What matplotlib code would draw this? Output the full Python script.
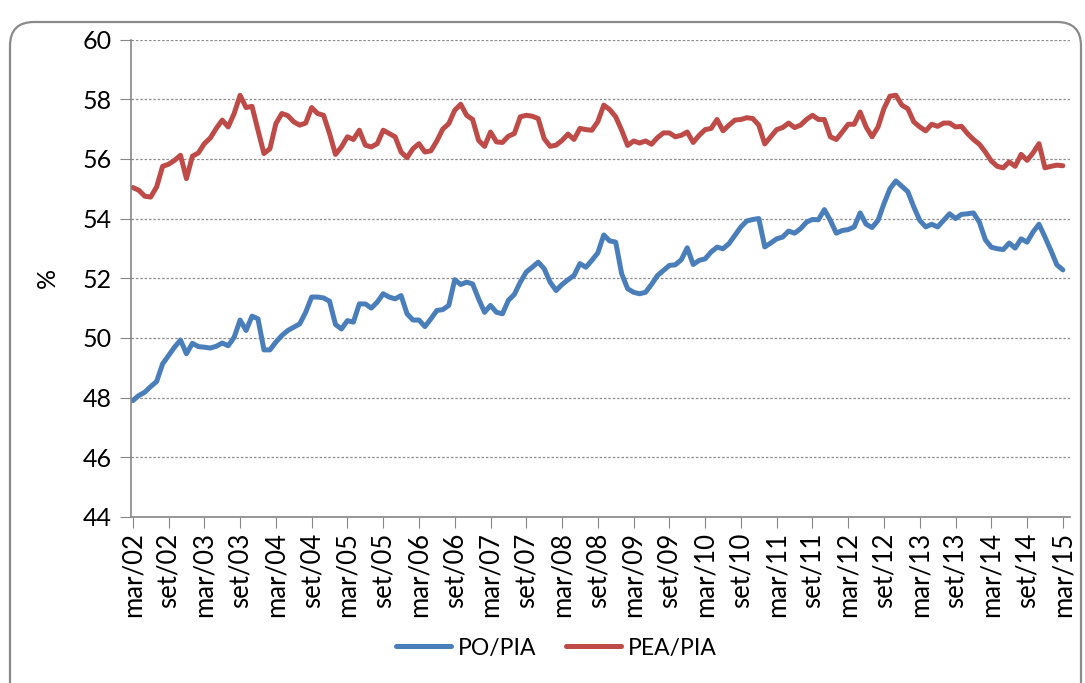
import numpy as np
import matplotlib
matplotlib.use("Agg")
import matplotlib.pyplot as plt
from matplotlib.patches import FancyBboxPatch
from matplotlib.transforms import IdentityTransform

plt.rcParams['font.family'] = ['Lato', 'DejaVu Sans']

# PO/PIA, mensal de mar/02 a mar/15
po_pia = [
    47.90, 48.07, 48.18, 48.37, 48.54, 49.13, 49.41, 49.69, 49.93, 49.47,
    49.82, 49.71, 49.69, 49.66, 49.72, 49.83, 49.74, 50.02, 50.60, 50.25,
    50.73, 50.64, 49.60, 49.60, 49.86, 50.08, 50.25, 50.36, 50.47, 50.86,
    51.37, 51.37, 51.34, 51.23, 50.45, 50.30, 50.58, 50.53, 51.14, 51.14,
    51.00, 51.20, 51.48, 51.37, 51.31, 51.42, 50.81, 50.60, 50.60, 50.38,
    50.64, 50.92, 50.95, 51.09, 51.95, 51.79, 51.87, 51.81, 51.31, 50.86,
    51.09, 50.86, 50.81, 51.26, 51.46, 51.87, 52.21, 52.37, 52.54, 52.32,
    51.87, 51.59, 51.79, 51.95, 52.09, 52.49, 52.37, 52.60, 52.85, 53.45,
    53.25, 53.21, 52.15, 51.65, 51.53, 51.48, 51.53, 51.79, 52.09, 52.26,
    52.43, 52.45, 52.62, 53.02, 52.46, 52.60, 52.65, 52.88, 53.04, 52.99,
    53.16, 53.44, 53.72, 53.92, 53.97, 54.00, 53.05, 53.18, 53.32, 53.38,
    53.58, 53.51, 53.66, 53.88, 53.97, 53.96, 54.30, 53.94, 53.51, 53.60,
    53.63, 53.72, 54.19, 53.81, 53.70, 53.94, 54.50, 55.00, 55.26, 55.08,
    54.90, 54.39, 53.94, 53.72, 53.81, 53.72, 53.94, 54.16, 54.00, 54.14,
    54.16, 54.19, 53.88, 53.29, 53.04, 52.99, 52.96, 53.18, 53.01, 53.32,
    53.21, 53.55, 53.81, 53.38, 52.93, 52.45, 52.28,
]

# PEA/PIA
pea_pia = [
    55.04, 54.95, 54.75, 54.72, 55.06, 55.75, 55.82, 55.95, 56.12, 55.34,
    56.09, 56.20, 56.51, 56.70, 57.02, 57.30, 57.07, 57.52, 58.13, 57.72,
    57.76, 56.96, 56.18, 56.34, 57.18, 57.52, 57.45, 57.24, 57.13, 57.20,
    57.72, 57.52, 57.46, 56.85, 56.15, 56.40, 56.74, 56.65, 56.96, 56.46,
    56.40, 56.51, 56.96, 56.85, 56.74, 56.23, 56.04, 56.34, 56.51, 56.23,
    56.27, 56.60, 57.00, 57.18, 57.63, 57.83, 57.46, 57.32, 56.62, 56.42,
    56.90, 56.57, 56.55, 56.76, 56.85, 57.41, 57.46, 57.43, 57.35, 56.68,
    56.42, 56.46, 56.62, 56.83, 56.65, 57.02, 56.98, 56.96, 57.25, 57.80,
    57.65, 57.41, 56.96, 56.45, 56.60, 56.53, 56.60, 56.49, 56.71, 56.87,
    56.87, 56.74, 56.79, 56.90, 56.55, 56.79, 56.98, 57.02, 57.32, 56.94,
    57.13, 57.30, 57.32, 57.38, 57.35, 57.13, 56.50, 56.74, 56.98, 57.05,
    57.20, 57.05, 57.13, 57.32, 57.46, 57.32, 57.32, 56.74, 56.65, 56.90,
    57.16, 57.16, 57.57, 57.07, 56.74, 57.07, 57.69, 58.10, 58.13, 57.80,
    57.68, 57.24, 57.07, 56.94, 57.16, 57.09, 57.20, 57.20, 57.07, 57.09,
    56.85, 56.65, 56.49, 56.23, 55.93, 55.75, 55.70, 55.90, 55.75, 56.15,
    55.95, 56.20, 56.51, 55.70, 55.75, 55.79, 55.77,
]

tick_labels = [
    "mar/02", "set/02", "mar/03", "set/03", "mar/04", "set/04", "mar/05",
    "set/05", "mar/06", "set/06", "mar/07", "set/07", "mar/08", "set/08",
    "mar/09", "set/09", "mar/10", "set/10", "mar/11", "set/11", "mar/12",
    "set/12", "mar/13", "set/13", "mar/14", "set/14", "mar/15",
]
y_ticks = [44, 46, 48, 50, 52, 54, 56, 58, 60]

BLUE = "#4A7EBB"
RED = "#BE4B48"
GRAY = "#868686"

fig = plt.figure(figsize=(10.85, 6.83), dpi=100)
ax = fig.add_axes([131 / 1085, 1 - 517 / 683, (1070 - 131) / 1085, (517 - 39.5) / 683])

x = np.arange(len(po_pia))
ax.plot(x, po_pia, color=BLUE, lw=3.6, label="PO/PIA", solid_capstyle="round", solid_joinstyle="round")
ax.plot(x, pea_pia, color=RED, lw=3.6, label="PEA/PIA", solid_capstyle="round", solid_joinstyle="round")

ax.set_xlim(-0.3, 157.2)
ax.set_ylim(44, 60)
ax.set_yticks(y_ticks)
ax.set_xticks(np.arange(0, len(po_pia), 6))
ax.set_xticklabels(tick_labels, rotation=90, fontsize=18.5)
ax.tick_params(axis="y", labelsize=18, length=8, color=GRAY, pad=6)
ax.tick_params(axis="x", length=8, color=GRAY, pad=3)

ax.grid(axis="y", color="#8c8c8c", linestyle=(0, (2, 1.5)), lw=0.9)
ax.set_axisbelow(True)
for side in ["top", "right"]:
    ax.spines[side].set_visible(False)
for side in ["left", "bottom"]:
    ax.spines[side].set_color(GRAY)
    ax.spines[side].set_linewidth(1.2)

ax.set_ylabel("%", fontsize=18, labelpad=17)

fig.legend(loc="center", bbox_to_anchor=(0.513, 1 - 648 / 683), ncol=2, frameon=False,
           fontsize=16.5, handlelength=2.4, columnspacing=1.3, handletextpad=0.3)

# moldura arredondada do gráfico
frame = FancyBboxPatch((10, -40), 1071, 683 - 22 + 40,
                       boxstyle="round,pad=0,rounding_size=24",
                       transform=IdentityTransform(), fill=False,
                       edgecolor="#8a8a8a", lw=1.6, clip_on=False)
fig.patches.append(frame)

fig.savefig("out.png", dpi=100)
